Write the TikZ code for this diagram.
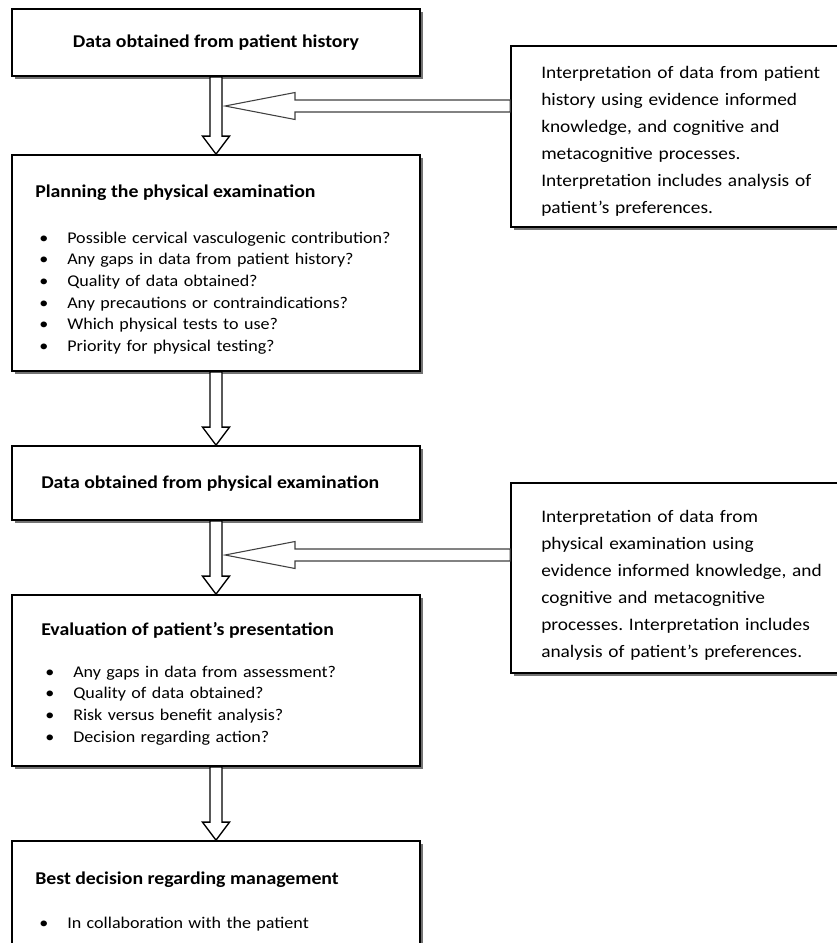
\documentclass[tikz,border=0pt]{standalone}
\usepackage{fontspec}
\setmainfont{Carlito}[FakeStretch=1.1]
\usetikzlibrary{calc,fit,shadows}

\tikzset{
  flowbox/.style={draw=black, line width=1.3pt, fill=white, inner sep=0pt,
    drop shadow={shadow xshift=2.6pt, shadow yshift=-2.6pt, opacity=1, fill=black!55}},
  boxtitle/.style={font=\fontsize{13.5}{16}\selectfont\bfseries, inner sep=0pt},
  bulletlist/.style={font=\fontsize{12.3}{16.3}\selectfont, text width=290pt, align=left, inner sep=0pt},
  interptext/.style={font=\fontsize{13.2}{20.25}\selectfont\frenchspacing, text width=260pt, align=left, inner sep=0pt},
  blockarrow/.style={draw=black, line width=1pt, fill=white, line join=miter},
  sidearrow/.style={draw=black!75, line width=0.8pt, fill=white, line join=miter}
}
\newcommand{\bul}{\makebox[21pt][l]{\textbullet}}

\begin{document}
\begin{tikzpicture}[x=0.75pt,y=0.75pt,yscale=-1,xscale=1]
\useasboundingbox (0,0) rectangle (837,943);
\clip (0,0) rectangle (837,943);

%Shape: Side arrows into the left column
\coordinate (tipA) at (225,106);
\coordinate (tipB) at (225,555);

%Shape: Rectangle [id:hist]
\node[flowbox, fit={(12,9) (420,76)}] (hist) {};
\node[boxtitle] (histT) at (hist.center) {Data obtained from patient history};

%Shape: Rectangle [id:plan]
\node[flowbox, fit={(12,155) (420,371)}] (plan) {};
\node[boxtitle, anchor=base west] (planT) at (35,197) {Planning the physical examination};
\node[bulletlist, anchor=base west] (planL) at (39,243) {%
\bul Possible cervical vasculogenic contribution?\\
\bul Any gaps in data from patient history?\\
\bul Quality of data obtained?\\
\bul Any precautions or contraindications?\\
\bul Which physical tests to use?\\
\bul Priority for physical testing?};

%Shape: Rectangle [id:exam]
\node[flowbox, fit={(12,446) (420,520)}] (exam) {};
\node[boxtitle, anchor=base west] (examT) at (41,488) {Data obtained from physical examination};

%Shape: Rectangle [id:eval]
\node[flowbox, fit={(12,595) (420,766)}] (eval) {};
\node[boxtitle, anchor=base west] (evalT) at (41,635) {Evaluation of patient’s presentation};
\node[bulletlist, anchor=base west] (evalL) at (45,677) {%
\bul Any gaps in data from assessment?\\
\bul Quality of data obtained?\\
\bul Risk versus benefit analysis?\\
\bul Decision regarding action?};

%Shape: Rectangle [id:best]
\node[flowbox, fit={(12,841) (420,965)}] (best) {};
\node[boxtitle, anchor=base west] (bestT) at (35,884) {Best decision regarding management};
\node[bulletlist, anchor=base west] (bestL) at (39,928) {\bul In collaboration with the patient};

%Block Arrow: vertical
\draw[blockarrow] ($(hist.south)+(-6,0)$) -- ($(hist.south)+(6,0)$) -- ($(plan.north)+(6,-18)$) -- ($(plan.north)+(13.5,-18)$) -- (plan.north) -- ($(plan.north)+(-13.5,-18)$) -- ($(plan.north)+(-6,-18)$) -- cycle;
\draw[blockarrow] ($(plan.south)+(-6,0)$) -- ($(plan.south)+(6,0)$) -- ($(exam.north)+(6,-18)$) -- ($(exam.north)+(13.5,-18)$) -- (exam.north) -- ($(exam.north)+(-13.5,-18)$) -- ($(exam.north)+(-6,-18)$) -- cycle;
\draw[blockarrow] ($(exam.south)+(-6,0)$) -- ($(exam.south)+(6,0)$) -- ($(eval.north)+(6,-18)$) -- ($(eval.north)+(13.5,-18)$) -- (eval.north) -- ($(eval.north)+(-13.5,-18)$) -- ($(eval.north)+(-6,-18)$) -- cycle;
\draw[blockarrow] ($(eval.south)+(-6,0)$) -- ($(eval.south)+(6,0)$) -- ($(best.north)+(6,-18)$) -- ($(best.north)+(13.5,-18)$) -- (best.north) -- ($(best.north)+(-13.5,-18)$) -- ($(best.north)+(-6,-18)$) -- cycle;

%Shape: Rectangle [id:interpA]
\node[flowbox, fit={(511,46) (875,227)}] (interpA) {};
\node[interptext, anchor=base west] (interpAT) at (541,78) {Interpretation of data from patient\\
history using evidence informed\\
knowledge, and cognitive and\\
metacognitive processes.\\
Interpretation includes analysis of\\
patient’s preferences.};

%Shape: Rectangle [id:interpB]
\node[flowbox, fit={(511,483) (875,673)}] (interpB) {};
\node[interptext, anchor=base west] (interpBT) at (541,522) {Interpretation of data from\\
physical examination using\\
evidence informed knowledge, and\\
cognitive and metacognitive\\
processes. Interpretation includes\\
analysis of patient’s preferences.};

%Block Arrow: from the interpretation boxes
\draw[sidearrow] (tipA) -- ($(tipA)+(70,-13.5)$) -- ($(tipA)+(70,-6)$) -- ($(interpA.west|-tipA)+(0,-6)$) -- ($(interpA.west|-tipA)+(0,6)$) -- ($(tipA)+(70,6)$) -- ($(tipA)+(70,13.5)$) -- cycle;
\draw[sidearrow] (tipB) -- ($(tipB)+(70,-13.5)$) -- ($(tipB)+(70,-6)$) -- ($(interpB.west|-tipB)+(0,-6)$) -- ($(interpB.west|-tipB)+(0,6)$) -- ($(tipB)+(70,6)$) -- ($(tipB)+(70,13.5)$) -- cycle;

\end{tikzpicture}
\end{document}
